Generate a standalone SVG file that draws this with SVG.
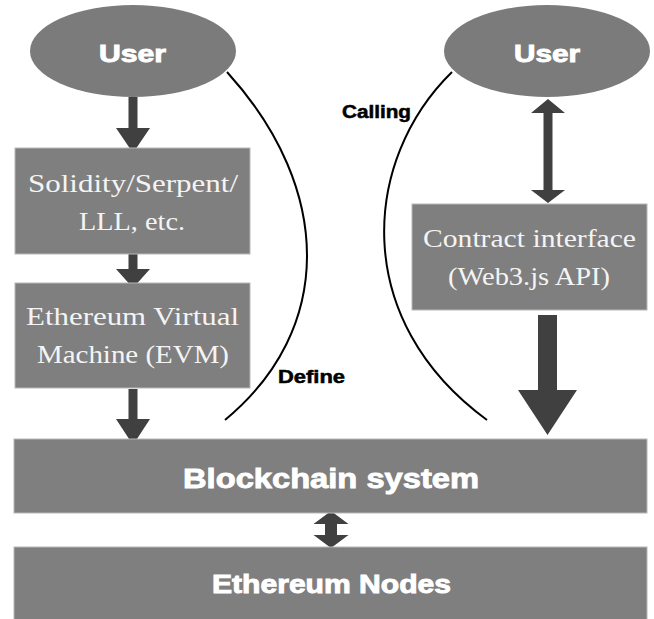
<svg xmlns="http://www.w3.org/2000/svg" width="654" height="619" viewBox="0 0 654 619">
  <style>
    .box { fill: #7f7f7f; stroke: #b8b8b8; stroke-width: 1; }
    .ell { fill: #7b7b7b; }
    .arrow { fill: #404040; }
    .curve { fill: none; stroke: #000; stroke-width: 2; }
    .bold { font-family: "Liberation Sans", Arial, sans-serif; font-weight: bold; fill: #ffffff; stroke: #ffffff; stroke-width: 0.9; }
    .serif { font-family: "Liberation Serif", "Times New Roman", serif; fill: #f4f4f4; font-size: 25px; }
    .lbl { font-family: "Liberation Sans", Arial, sans-serif; font-weight: bold; fill: #000; stroke: #000; stroke-width: 0.5; font-size: 17.5px; }
  </style>
  <rect width="654" height="619" fill="#ffffff"/>

  <g id="connectors">
    <polygon class="arrow" points="128.5,97 137.5,97 137.5,128 150,128 133,153 116,128 128.5,128"/>
    <polygon class="arrow" points="128.5,254 137.5,254 137.5,269 150,269 133,288 116,269 128.5,269"/>
    <polygon class="arrow" points="128.5,389 137.5,389 137.5,419 150,419 133,445 116,419 128.5,419"/>
    <polygon class="arrow" points="548,99 565,113 552.5,113 552.5,190 565,190 548,203 531,190 543.5,190 543.5,113 531,113"/>
    <polygon class="arrow" points="538,315 557,315 557,390 577,390 547.5,435 518,390 538,390"/>
    <polygon class="arrow" points="331,511 348.5,524 337,524 337,535 348.5,535 331,548 313.5,535 325,535 325,524 313.5,524"/>
    <path class="curve" d="M227,72 C334,190 334,330 225,420"/>
    <path class="curve" d="M452,72 C362,160 350,320 487,420"/>
    <text class="lbl" x="278" y="383" textLength="67" lengthAdjust="spacingAndGlyphs">Define</text>
    <text class="lbl" x="342" y="118" textLength="69" lengthAdjust="spacingAndGlyphs">Calling</text>
  </g>

  <g id="user-left">
    <ellipse class="ell" cx="133" cy="51" rx="103" ry="46"/>
    <text class="bold" x="99" y="62" font-size="24" textLength="67" lengthAdjust="spacingAndGlyphs">User</text>
  </g>

  <g id="user-right">
    <ellipse class="ell" cx="547" cy="51" rx="103" ry="46"/>
    <text class="bold" x="514" y="62" font-size="24" textLength="66" lengthAdjust="spacingAndGlyphs">User</text>
  </g>

  <g id="languages">
    <rect class="box" x="15" y="148" width="235" height="106"/>
    <text class="serif" x="28" y="192" textLength="210" lengthAdjust="spacingAndGlyphs">Solidity/Serpent/</text>
    <text class="serif" x="79" y="230" textLength="106" lengthAdjust="spacingAndGlyphs">LLL, etc.</text>
  </g>

  <g id="evm">
    <rect class="box" x="15" y="283" width="235" height="105"/>
    <text class="serif" x="26" y="325" textLength="213" lengthAdjust="spacingAndGlyphs">Ethereum Virtual</text>
    <text class="serif" x="37" y="363" textLength="192" lengthAdjust="spacingAndGlyphs">Machine (EVM)</text>
  </g>

  <g id="contract-interface">
    <rect class="box" x="412" y="204" width="235" height="106"/>
    <text class="serif" x="423" y="247" textLength="213" lengthAdjust="spacingAndGlyphs">Contract interface</text>
    <text class="serif" x="448" y="285" textLength="162" lengthAdjust="spacingAndGlyphs">(Web3.js API)</text>
  </g>

  <g id="blockchain-system">
    <rect class="box" x="14" y="439" width="633" height="74"/>
    <text class="bold" x="183" y="488" font-size="28" textLength="296" lengthAdjust="spacingAndGlyphs">Blockchain system</text>
  </g>

  <g id="ethereum-nodes">
    <rect class="box" x="14" y="547" width="633" height="80"/>
    <text class="bold" x="212" y="593" font-size="25" textLength="239" lengthAdjust="spacingAndGlyphs">Ethereum Nodes</text>
  </g>
</svg>
